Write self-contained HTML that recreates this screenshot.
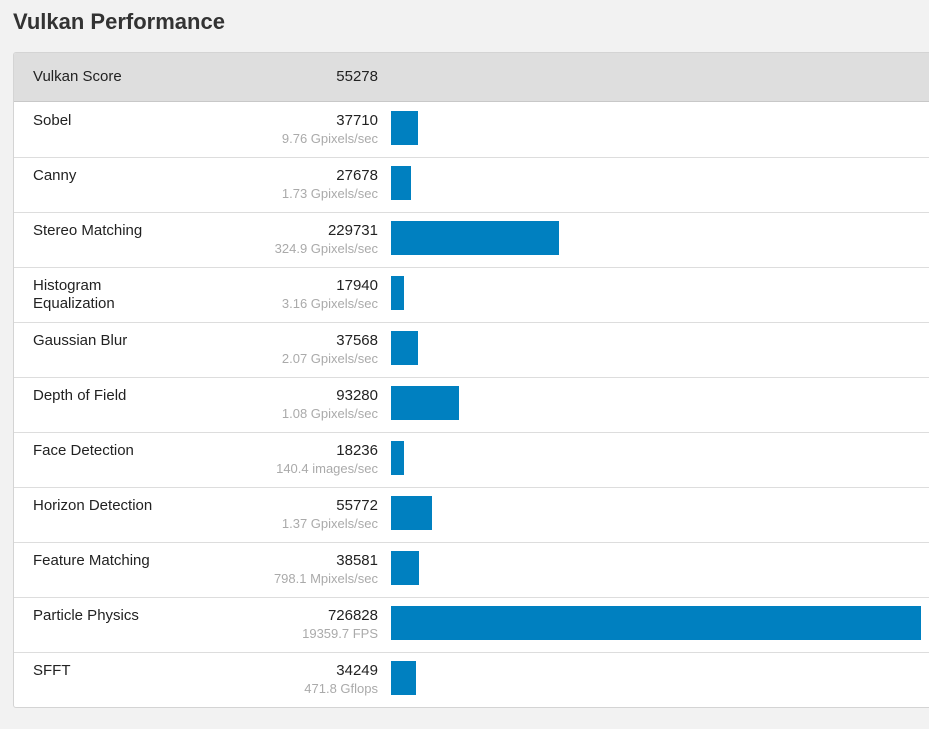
<!DOCTYPE html>
<html><head><meta charset="utf-8"><style>
body{margin:0;width:929px;height:729px;background:#f2f2f2;font-family:"Liberation Sans",sans-serif;overflow:hidden;position:relative;color:#222}
h1{position:absolute;left:13px;top:9px;margin:0;font-size:22px;font-weight:bold;color:#333}
#panel{position:absolute;left:13px;top:52px;width:930px;height:654px;background:#fff;border:1px solid #d4d4d4;border-radius:3px;overflow:hidden}
.hdr{position:absolute;left:0;top:0;width:100%;height:48px;background:#dedede;border-bottom:1px solid #c8c8c8}
.row{position:absolute;left:0;width:100%;height:55px;border-bottom:1px solid #ddd}
.name{position:absolute;left:19px;top:10px;font-size:15px;line-height:18px;width:120px}
.score{position:absolute;right:566px;top:10px;font-size:15px;line-height:18px;text-align:right}
.sub{position:absolute;right:566px;top:29px;font-size:13px;color:#aaa;white-space:nowrap}
.bar{position:absolute;left:377px;top:9px;height:34px;background:#0080c0}
</style></head><body>
<h1>Vulkan Performance</h1>
<div id="panel">
<div class="hdr">
<div class="name" style="top:15px">Vulkan Score</div>
<div class="score" style="top:15px">55278</div>
</div>
</div>
<script>
const categories=["Sobel","Canny","Stereo Matching","Histogram Equalization","Gaussian Blur","Depth of Field","Face Detection","Horizon Detection","Feature Matching","Particle Physics","SFFT"];
const scores=[37710,27678,229731,17940,37568,93280,18236,55772,38581,726828,34249];
const subs=["9.76 Gpixels/sec","1.73 Gpixels/sec","324.9 Gpixels/sec","3.16 Gpixels/sec","2.07 Gpixels/sec","1.08 Gpixels/sec","140.4 images/sec","1.37 Gpixels/sec","798.1 Mpixels/sec","19359.7 FPS","471.8 Gflops"];
const panel=document.getElementById('panel');
const maxV=Math.max(...scores);
const x=v=>v/maxV*530;
categories.forEach((c,i)=>{
const r=document.createElement('div');r.className='row';r.style.top=(49+i*55)+'px';


const n=document.createElement('div');n.className='name';n.textContent=c;


const s=document.createElement('div');s.className='score';s.textContent=scores[i];


const u=document.createElement('div');u.className='sub';u.textContent=subs[i];


const b=document.createElement('div');b.className='bar';b.style.width=x(scores[i])+'px';


r.append(n,s,u,b);panel.appendChild(r);
});
</script>
</body></html>
